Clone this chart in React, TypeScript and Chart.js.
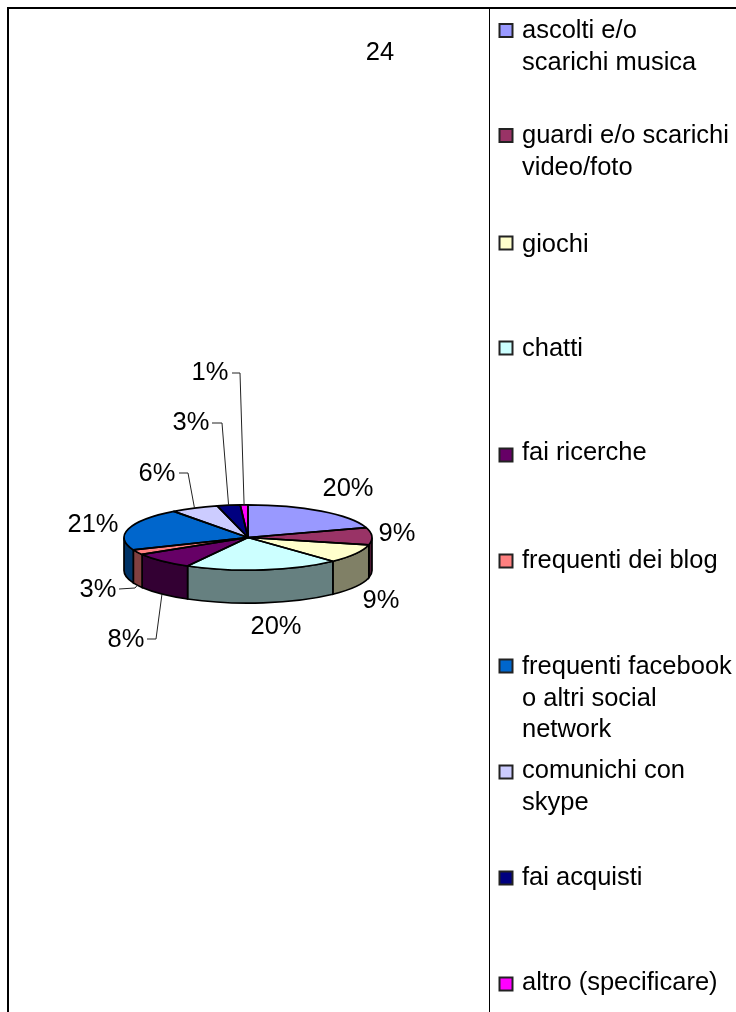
import React, { useEffect, useRef } from "react";
import { Chart, registerables } from "chart.js";

Chart.register(...registerables);

const title = "24";
const categories = [
  "ascolti e/o scarichi musica",
  "guardi e/o scarichi video/foto",
  "giochi",
  "chatti",
  "fai ricerche",
  "frequenti dei blog",
  "frequenti facebook o altri social network",
  "comunichi con skype",
  "fai acquisti",
  "altro (specificare)",
];
const legendLines = [
  ["ascolti e/o", "scarichi musica"],
  ["guardi e/o scarichi", "video/foto"],
  ["giochi"],
  ["chatti"],
  ["fai ricerche"],
  ["frequenti dei blog"],
  ["frequenti facebook", "o altri social", "network"],
  ["comunichi con", "skype"],
  ["fai acquisti"],
  ["altro (specificare)"],
];
const values = [20.1, 8.5, 9.4, 20.1, 8.2, 2.5, 21, 6.2, 3, 1];
const colors = ["#9999FF", "#993366", "#FFFFCC", "#CCFFFF", "#660066", "#FF8080", "#0066CC", "#CCCCFF", "#000080", "#FF00FF"];
const sideColors = ["#4C4C80", "#4C1933", "#808066", "#668080", "#330033", "#804040", "#003366", "#666680", "#000040", "#800080"];

// Layout constants (pixels on the page)
const WIDTH = 736;
const HEIGHT = 1012;
const FONT = '"Liberation Sans", Arial, sans-serif';
const FONT_SIZE = 25.5;
const TILT = 0.263;
const DEPTH = 33;
const legendSwatchY = [30.5, 135.5, 243, 348, 455, 561, 666, 772, 878, 984];
const legendFirstLineY = [31, 136, 245, 349, 453, 561, 667, 771, 878, 983];
const LINE_STEP = 31.5;
const labelCenters: [number, number][] = [
  [348, 489], [397, 534], [381, 601], [276, 627], [126, 640],
  [98, 590], [93, 525], [157, 474], [191, 423], [210, 373],
];
// Leader lines: [start x, y, kink x, y] for the slices that have one; end is the slice's rim
const leaders: Record<number, [number, number, number, number]> = {
  4: [147, 639, 156, 639],
  5: [119, 589, 135, 588],
  7: [179, 473, 188, 473],
  8: [212, 423, 222, 423],
  9: [232, 373, 240, 373],
};

const pie3d = {
  id: "pie3d",
  beforeDatasetsDraw(chart: any) {
    const ctx = chart.ctx;
    const arcs = chart.getDatasetMeta(0).data;
    ctx.save();
    // Side walls, from the same arcs as the top face
    arcs.forEach((arc: any, i: number) => {
      const lo = Math.max(arc.startAngle, 0);
      const hi = Math.min(arc.endAngle, Math.PI);
      if (lo >= hi) return;
      const rx = arc.outerRadius;
      const ry = rx * TILT;
      ctx.beginPath();
      ctx.ellipse(arc.x, arc.y, rx, ry, 0, lo, hi);
      ctx.ellipse(arc.x, arc.y + DEPTH, rx, ry, 0, hi, lo, true);
      ctx.closePath();
      ctx.fillStyle = sideColors[i];
      ctx.fill();
      ctx.strokeStyle = "#000";
      ctx.lineWidth = 1.7;
      ctx.stroke();
    });
    ctx.restore();
    // Squash the pie drawn by the library
    const a0 = arcs[0];
    ctx.save();
    ctx.translate(a0.x, a0.y);
    ctx.scale(1, TILT);
    ctx.translate(-a0.x, -a0.y);
  },
  afterDatasetsDraw(chart: any) {
    const ctx = chart.ctx;
    ctx.restore();
    const arcs = chart.getDatasetMeta(0).data;
    ctx.save();
    ctx.strokeStyle = "#000";
    ctx.lineWidth = 1.7;
    ctx.lineJoin = "round";
    arcs.forEach((arc: any) => {
      ctx.beginPath();
      ctx.moveTo(arc.x, arc.y);
      ctx.ellipse(arc.x, arc.y, arc.outerRadius, arc.outerRadius * TILT, 0, arc.startAngle, arc.endAngle);
      ctx.closePath();
      ctx.stroke();
    });
    ctx.restore();
  },
  afterDraw(chart: any) {
    const ctx = chart.ctx;
    const arcs = chart.getDatasetMeta(0).data;
    const ds = chart.data.datasets[0].data as number[];
    const total = ds.reduce((a: number, b: number) => a + b, 0);
    ctx.save();

    // Frame
    ctx.strokeStyle = "#000";
    ctx.lineWidth = 2;
    ctx.beginPath();
    ctx.moveTo(8, HEIGHT);
    ctx.lineTo(8, 8);
    ctx.lineTo(WIDTH, 8);
    ctx.stroke();
    ctx.lineWidth = 1;
    ctx.beginPath();
    ctx.moveTo(489.5, 8);
    ctx.lineTo(489.5, HEIGHT);
    ctx.stroke();

    ctx.font = `${FONT_SIZE}px ${FONT}`;
    ctx.fillStyle = "#000";
    ctx.textBaseline = "middle";

    // Title
    ctx.textAlign = "center";
    ctx.fillText(title, 380, 53);

    // Leader lines
    ctx.lineWidth = 1;
    ctx.strokeStyle = "#222";
    Object.keys(leaders).forEach((k) => {
      const i = Number(k);
      const arc = arcs[i];
      const [x0, y0, x1, y1] = leaders[i];
      const mid = (arc.startAngle + arc.endAngle) / 2;
      const ex = arc.x + arc.outerRadius * Math.cos(mid);
      let ey = arc.y + arc.outerRadius * TILT * Math.sin(mid);
      if (Math.sin(mid) > 0) ey += DEPTH;
      ctx.beginPath();
      ctx.moveTo(x0, y0);
      ctx.lineTo(x1, y1);
      ctx.lineTo(ex, ey);
      ctx.stroke();
    });

    // Percentage labels
    ds.forEach((v: number, i: number) => {
      ctx.fillText(`${Math.round((v / total) * 100)}%`, labelCenters[i][0], labelCenters[i][1]);
    });

    // Legend
    ctx.textAlign = "left";
    categories.forEach((_, i) => {
      const sy = legendSwatchY[i];
      ctx.fillStyle = colors[i];
      ctx.strokeStyle = "#222";
      ctx.lineWidth = 2;
      ctx.fillRect(499.5, sy - 6.5, 13, 13);
      ctx.strokeRect(499.5, sy - 6.5, 13, 13);
      ctx.fillStyle = "#000";
      legendLines[i].forEach((line, j) => {
        ctx.fillText(line, 522, legendFirstLineY[i] + j * LINE_STEP);
      });
    });
    ctx.restore();
  },
};

export default function App() {
  const ref = useRef<HTMLCanvasElement>(null);
  useEffect(() => {
    const chart = new Chart(ref.current as HTMLCanvasElement, {
      type: "pie",
      data: {
        labels: categories,
        datasets: [{ data: values, backgroundColor: colors, borderWidth: 0 }],
      },
      options: {
        responsive: false,
        animation: false,
        layout: { padding: { left: 124, right: WIDTH - 372, top: 537.5 - 124, bottom: HEIGHT - 537.5 - 124 } },
        plugins: { legend: { display: false }, tooltip: { enabled: false } },
      },
      plugins: [pie3d],
    } as any);
    return () => chart.destroy();
  }, []);
  return (
    <canvas
      ref={ref}
      width={WIDTH}
      height={HEIGHT}
      style={{ position: "absolute", left: 0, top: 0, width: WIDTH, height: HEIGHT, background: "#fff", display: "block" }}
    />
  );
}
